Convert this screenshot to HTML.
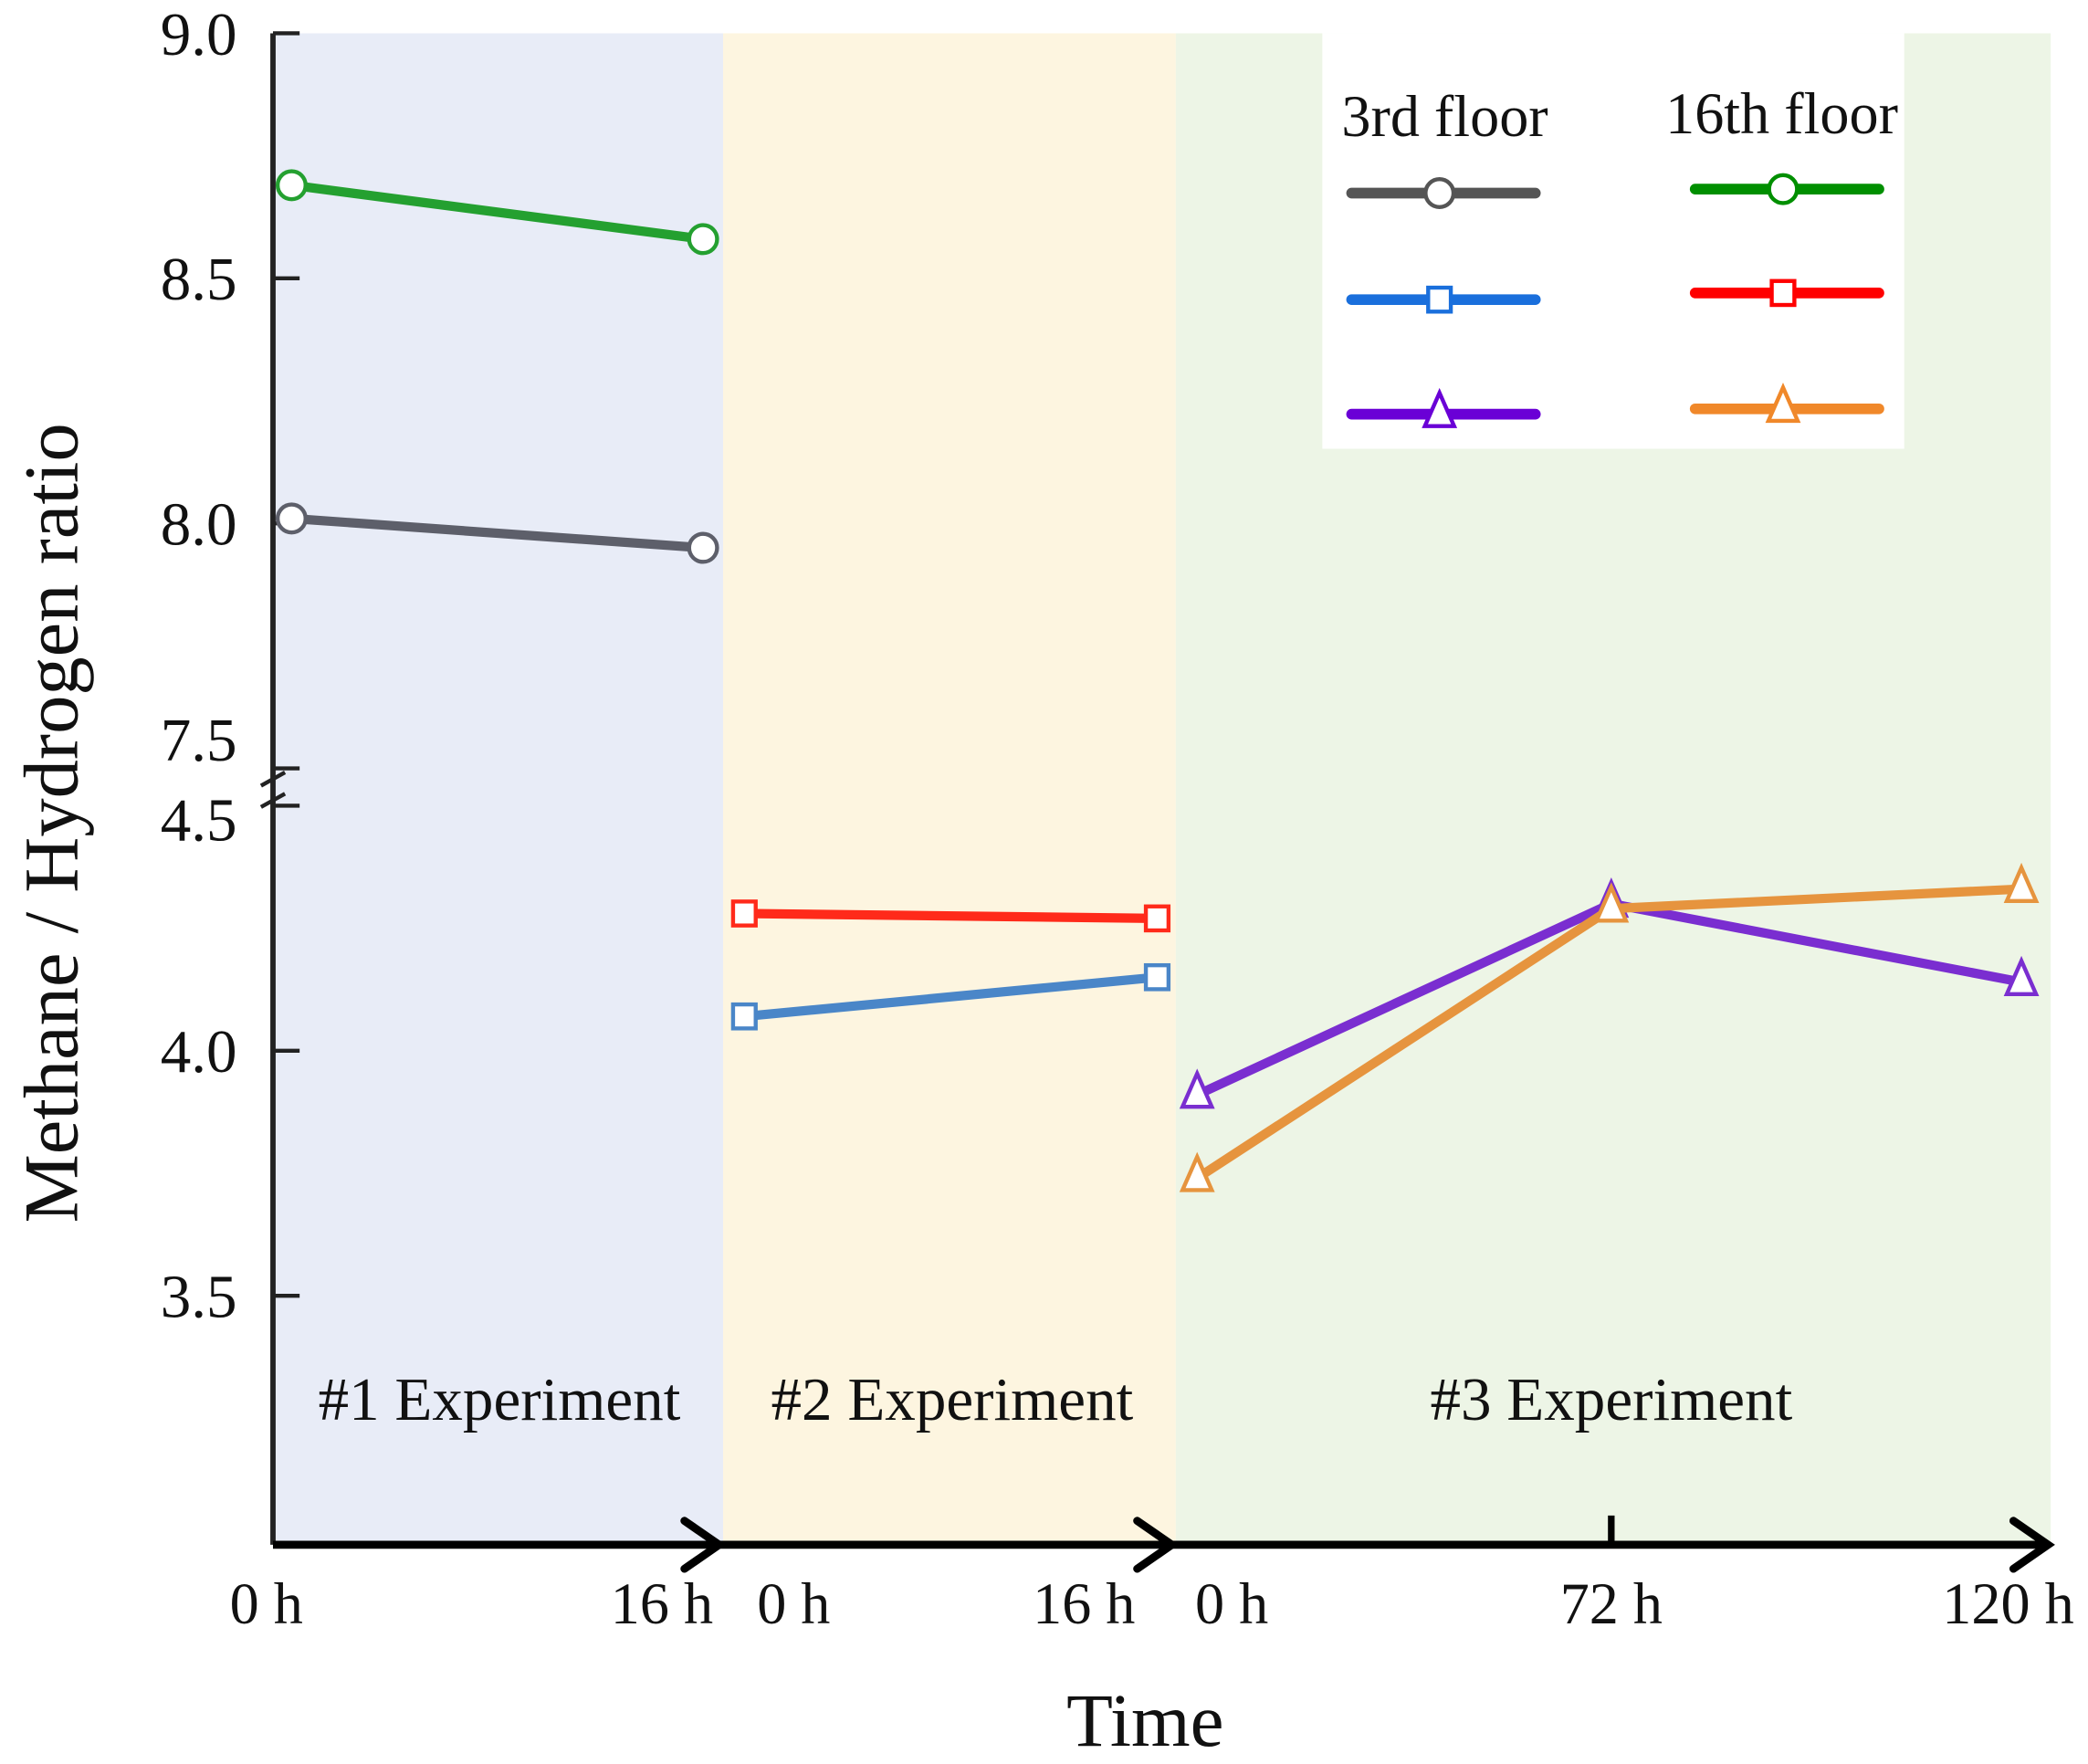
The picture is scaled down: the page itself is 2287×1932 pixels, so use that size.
<!DOCTYPE html>
<html><head><meta charset="utf-8"><style>
html,body{margin:0;padding:0;background:#fff;}
svg{display:block;}
text{font-family:"Liberation Serif",serif;fill:#111;}
</style></head><body>
<svg id="chart" width="2287" height="1932" viewBox="0 0 1568 1324.6">
<rect x="205" y="25" width="338" height="1135" fill="#e8ecf7"/>
<rect x="543" y="25" width="340" height="1135" fill="#fdf5e0"/>
<rect x="883" y="25" width="657" height="1135" fill="#edf5e6"/>
<g id="axes"></g>
<g id="series"></g>
<g id="legend">
<rect x="993" y="25" width="437" height="312" fill="#fff"/>
<text x="1085" y="102" font-size="44" text-anchor="middle">3rd floor</text>
<text x="1338" y="100" font-size="44" text-anchor="middle">16th floor</text>
</g>
<text x="375" y="1066" font-size="46" text-anchor="middle">#1 Experiment</text>
<text x="715" y="1066" font-size="46" text-anchor="middle">#2 Experiment</text>
<text x="1210" y="1066" font-size="46" text-anchor="middle">#3 Experiment</text>
<text x="860" y="1311" font-size="57" text-anchor="middle">Time</text>
<text transform="translate(58,618) rotate(-90)" font-size="58" text-anchor="middle">Methane / Hydrogen ratio</text>
</svg>
<script>
const upperTicks=[9.0,8.5,8.0,7.5];
const lowerTicks=[4.5,4.0,3.5];
const xTickLabels=["0 h","16 h","0 h","16 h","0 h","72 h","120 h"];
const xTickPos=[0,1,2,3,4,5,6];
const seriesNames=["3rd-floor-exp1","16th-floor-exp1","3rd-floor-exp2","16th-floor-exp2","3rd-floor-exp3","16th-floor-exp3"];
const s3rdExp1=[8.01,7.95];
const s16thExp1=[8.69,8.58];
const s3rdExp2=[4.07,4.15];
const s16thExp2=[4.28,4.27];
const s3rdExp3=[3.91,4.30,4.14];
const s16thExp3=[3.74,4.29,4.33];

const NS="http://www.w3.org/2000/svg";
function mk(tag,attrs,parent){const e=document.createElementNS(NS,tag);for(const k in attrs)e.setAttribute(k,attrs[k]);parent.appendChild(e);return e;}
function yUp(v){return 25+(9-v)*368;}
function yLo(v){return 605+(4.5-v)*368;}
const ptX=[219,528,559,869,899,1210,1518];
const labX=[200,497,596,814,925,1210,1508];
const axes=document.getElementById('axes');
const ser=document.getElementById('series');

let el=mk('path',{d:'M205,25 V1160',stroke:'#222','stroke-width':4,fill:'none'},axes);


el=mk('path',{d:'M196,590 L214,580 M196,606 L214,596',stroke:'#222','stroke-width':3,fill:'none'},axes);


upperTicks.forEach(v=>{
 const y=yUp(v);
 let t=mk('line',{x1:205,x2:225,y1:y,y2:y,stroke:'#222','stroke-width':3},axes);
 
 
 const ly=(v===7.5)?y-6:y+16;
 let tx=mk('text',{x:178,y:ly,'font-size':46,'text-anchor':'end'},axes);
 tx.textContent=v.toFixed(1);
 
 
});
lowerTicks.forEach(v=>{
 const y=yLo(v);
 let t=mk('line',{x1:205,x2:225,y1:y,y2:y,stroke:'#222','stroke-width':3},axes);
 
 
 const ly=(v===4.5)?y+26:y+16;
 let tx=mk('text',{x:178,y:ly,'font-size':46,'text-anchor':'end'},axes);
 tx.textContent=v.toFixed(1);
 
 
});
el=mk('path',{d:'M205,1160 H1536',stroke:'#000','stroke-width':6,fill:'none'},axes);


[540,880,1538].forEach(x=>{
 let a=mk('path',{d:`M${x-26},1142 L${x},1160 L${x-26},1178`,stroke:'#000','stroke-width':6,fill:'none','stroke-linecap':'round'},axes);
 
 
});
el=mk('line',{x1:1210,x2:1210,y1:1138,y2:1160,stroke:'#000','stroke-width':5},axes);


xTickPos.forEach((p,i)=>{
 let tx=mk('text',{x:labX[p],y:1219,'font-size':44,'text-anchor':'middle'},axes);
 tx.textContent=xTickLabels[i];
 
 
});

function marker(g,shape,x,y,color){
 if(shape==='circle')return mk('circle',{cx:x,cy:y,r:10.5,fill:'#fff',stroke:color,'stroke-width':3},g);
 if(shape==='square')return mk('rect',{x:x-8.5,y:y-9,width:17,height:18,fill:'#fff',stroke:color,'stroke-width':3},g);
 return mk('path',{d:`M${x},${y-16} L${x+11},${y+9} L${x-11},${y+9} Z`,fill:'#fff',stroke:color,'stroke-width':3},g);
}
function drawSeries(name,vals,xIdx,scale,color,shape){
 const g=mk('g',{},ser);
 
 
 const pts=vals.map((v,i)=>[ptX[xIdx[i]],scale(v)]);
 const ln=mk('polyline',{points:pts.map(p=>p.join(',')).join(' '),fill:'none',stroke:color,'stroke-width':7,'stroke-linejoin':'round'},g);
 
 
 pts.forEach(p=>{
  const m=marker(g,shape,p[0],p[1],color);
  
  
 });
}
drawSeries(seriesNames[0],s3rdExp1,[0,1],yUp,'#5d5f6a','circle');
drawSeries(seriesNames[1],s16thExp1,[0,1],yUp,'#24a030','circle');
drawSeries(seriesNames[3],s16thExp2,[2,3],yLo,'#ff2a1a','square');
drawSeries(seriesNames[2],s3rdExp2,[2,3],yLo,'#4a86c8','square');
drawSeries(seriesNames[4],s3rdExp3,[4,5,6],yLo,'#7a2ed0','triangle');
drawSeries(seriesNames[5],s16thExp3,[4,5,6],yLo,'#e6943e','triangle');

const lg=document.getElementById('legend');
const legendItems=[[1015,145,'#555555','circle'],[1015,225,'#1a6fdc','square'],[1015,311,'#6a00d6','triangle'],
 [1273,142,'#008f00','circle'],[1273,220,'#ff0000','square'],[1273,307,'#f0882a','triangle']];
legendItems.forEach((it,i)=>{
 const g=mk('g',{},lg);
 
 
 mk('line',{x1:it[0],x2:it[0]+138,y1:it[1],y2:it[1],stroke:it[2],'stroke-width':8,'stroke-linecap':'round'},g);
 marker(g,it[3],it[0]+66,it[1],it[2]);
});
</script>
</body></html>
